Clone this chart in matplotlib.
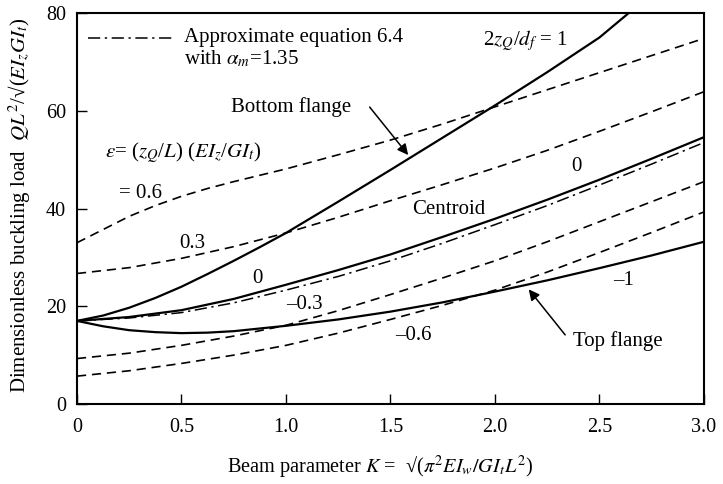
import matplotlib
matplotlib.use("Agg")
import matplotlib.pyplot as plt
import numpy as np

plt.rcParams['font.family'] = ['Liberation Serif', 'DejaVu Serif']
plt.rcParams['mathtext.fontset'] = 'stix'

# values
K = [0, 0.25, 0.5, 0.75, 1.0, 1.25, 1.5, 1.75, 2.0, 2.25, 2.5, 2.75, 3.0]

K_bottom = [0, 0.125, 0.25, 0.375, 0.5, 0.625, 0.75, 0.875, 1.0, 1.25, 1.5, 1.75, 2.0, 2.25, 2.5, 2.64]
bottom_flange = [17, 18.1, 19.7, 21.7, 24.0, 26.6, 29.3, 32.1, 35.0, 41.4, 47.9, 54.5, 61.1, 67.9, 75.0, 80]

centroid = [17, 17.8, 19.2, 21.5, 24.4, 27.4, 30.6, 34.2, 37.9, 41.8, 45.9, 50.2, 54.6]
approx = [17, 17.6, 18.7, 20.7, 23.3, 26.1, 29.3, 32.9, 36.7, 40.6, 44.8, 49.1, 53.5]

K_top = [0, 0.125, 0.25, 0.375, 0.5, 0.625, 0.75, 1.0, 1.25, 1.5, 1.75, 2.0, 2.25, 2.5, 2.75, 3.0]
top_flange = [17, 15.9, 15.1, 14.7, 14.5, 14.6, 14.9, 16.0, 17.3, 18.9, 20.8, 23.0, 25.3, 27.8, 30.4, 33.2]

K_06 = [0, 0.125, 0.25, 0.375, 0.5, 0.625, 0.75, 0.875, 1.0, 1.25, 1.5, 1.75, 2.0, 2.25, 2.5, 2.75, 3.0]
eps_p06 = [33.0, 35.7, 38.4, 40.6, 42.5, 44.1, 45.5, 46.8, 48.1, 51.0, 54.0, 57.3, 60.8, 64.3, 67.8, 71.3, 74.8]
eps_p03 = [26.7, 27.9, 29.8, 32.2, 35.0, 38.2, 41.6, 44.9, 48.3, 51.9, 55.8, 59.8, 63.9]
eps_m03 = [9.3, 10.4, 12.0, 13.9, 16.1, 19.1, 22.4, 25.8, 29.3, 33.2, 37.3, 41.4, 45.5]
eps_m06 = [5.7, 6.8, 8.3, 10.0, 12.0, 14.5, 17.3, 20.2, 23.3, 27.0, 31.0, 35.1, 39.3]

fig = plt.figure(figsize=(7.23, 4.84), dpi=100)
ax = fig.add_axes([0.1065, 0.1653, 0.8672, 0.8078])

dash = (0, (5.5, 3.5))
dashdot = (0, (8, 3, 1.5, 3))

ax.plot(K_bottom, bottom_flange, color='black', lw=1.6)
ax.plot(K, centroid, color='black', lw=1.6)
ax.plot(K_top, top_flange, color='black', lw=1.6)
ax.plot(K, approx, color='black', lw=1.1, linestyle=dashdot)
ax.plot(K_06, eps_p06, color='black', lw=1.2, linestyle=dash)
ax.plot(K, eps_p03, color='black', lw=1.2, linestyle=dash)
ax.plot(K, eps_m03, color='black', lw=1.2, linestyle=dash)
ax.plot(K, eps_m06, color='black', lw=1.2, linestyle=dash)

ax.set_xlim(0, 3)
ax.set_ylim(0, 80)
ax.set_xticks([0, 0.5, 1.0, 1.5, 2.0, 2.5, 3.0])
ax.set_xticklabels(['0', '0.5', '1.0', '1.5', '2.0', '2.5', '3.0'])
ax.set_yticks([0, 20, 40, 60, 80])
ax.tick_params(direction='in', length=7, width=1, labelsize=14.5)
ax.tick_params(axis='x', pad=10)
ax.tick_params(axis='y', pad=8)
for s in ax.spines.values():
    s.set_linewidth(1.5)

fs = 15

# legend drawn by hand
ax.plot([0.053, 0.455], [74.9, 74.9], color='black', lw=1.1, linestyle=dashdot)
ax.text(0.51, 75.0, 'Approximate equation 6.4', fontsize=fs, va='center')
ax.text(0.51, 70.6, r'with $\alpha_m$=1.35', fontsize=fs, va='center')

ax.text(2.144, 74.4, r'2$z_Q$/$d_f$ = 1', fontsize=fs, ha='center', va='center')
ax.text(1.024, 60.8, 'Bottom flange', fontsize=fs, ha='center', va='center')
ax.annotate('', xy=(1.593, 50.5), xytext=(1.392, 61.2),
            arrowprops=dict(arrowstyle='-|>', color='black', lw=1.1, mutation_scale=16))
ax.text(0.134, 51.4, r'$\varepsilon$= ($z_Q$/$L$) ($EI_z$/$GI_t$)', fontsize=fs, va='center')
ax.text(0.306, 43.0, '= 0.6', fontsize=fs, ha='center', va='center')
ax.text(0.55, 32.9, '0.3', fontsize=fs, ha='center', va='center')
ax.text(0.861, 25.6, '0', fontsize=fs, ha='center', va='center')
ax.text(1.78, 39.7, 'Centroid', fontsize=fs, ha='center', va='center')
ax.text(2.388, 48.5, '0', fontsize=fs, ha='center', va='center')
ax.text(1.086, 20.3, '\u20130.3', fontsize=fs, ha='center', va='center')
ax.text(1.608, 14.1, '\u20130.6', fontsize=fs, ha='center', va='center')
ax.text(2.617, 25.2, '\u20131', fontsize=fs, ha='center', va='center')
ax.text(2.589, 12.9, 'Top flange', fontsize=fs, ha='center', va='center')
ax.annotate('', xy=(2.153, 23.9), xytext=(2.344, 13.7),
            arrowprops=dict(arrowstyle='-|>', color='black', lw=1.1, mutation_scale=16))

fig.text(20 / 723, 0.575, r'Dimensionless buckling load  $QL^2$/√($EI_zGI_t$)',
         rotation=90, fontsize=15, ha='center', va='center')
fig.text(380 / 723, 0.035, r'Beam parameter $K$ =  √($\pi^2EI_w/GI_tL^2$)',
         fontsize=14.6, ha='center', va='center')

fig.savefig('out.png', dpi=100)
